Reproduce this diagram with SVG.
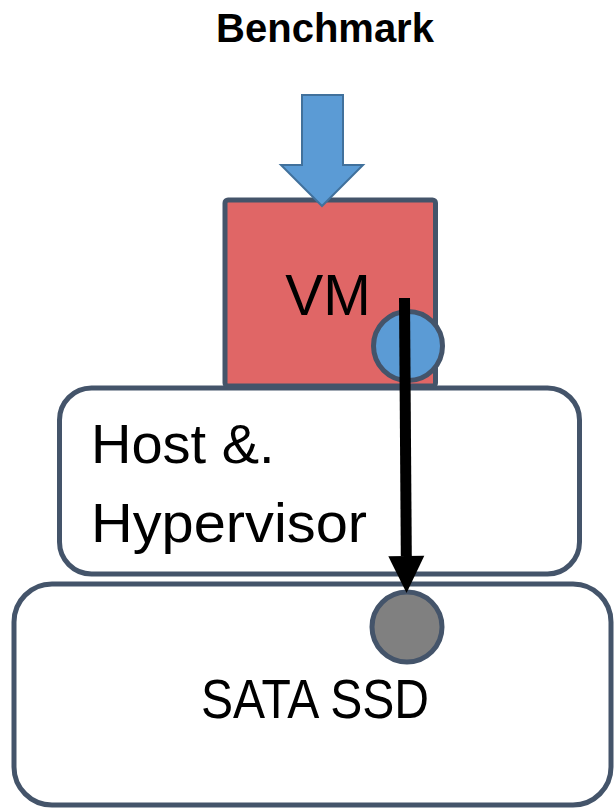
<svg xmlns="http://www.w3.org/2000/svg" width="615" height="810" viewBox="0 0 615 810">
  <style>
    .box { fill: #ffffff; stroke: #44546A; stroke-width: 5; }
    .lbl { font-family: "Liberation Sans", Arial, sans-serif; fill: #000000; }
    .port { stroke: #44546A; stroke-width: 5; }
    .io { stroke: #000000; stroke-width: 11; fill: none; }
  </style>
  <defs>
    <marker id="head" markerUnits="userSpaceOnUse" markerWidth="40" markerHeight="40" refX="0" refY="18" orient="auto" overflow="visible">
      <polygon points="0,0 37,18 0,36" fill="#000000"/>
    </marker>
  </defs>

  <rect width="615" height="810" fill="#ffffff"/>

  <g id="ssd">
    <rect class="box" x="14" y="584" width="597" height="221" rx="38"/>
    <text class="lbl" x="315" y="718" font-size="55" text-anchor="middle" textLength="228" lengthAdjust="spacingAndGlyphs">SATA SSD</text>
    <circle class="port" cx="407" cy="627" r="35" fill="#808080"/>
  </g>

  <g id="host">
    <rect class="box" x="59.5" y="388" width="520" height="186" rx="32"/>
    <text class="lbl" x="91" y="463" font-size="56">Host &amp;.</text>
    <text class="lbl" x="91" y="542" font-size="56" textLength="276" lengthAdjust="spacingAndGlyphs">Hypervisor</text>
  </g>

  <g id="vm">
    <rect x="225" y="200" width="210.5" height="186" rx="3" fill="#E06666" stroke="#44546A" stroke-width="5"/>
    <text class="lbl" x="328" y="315" font-size="57" text-anchor="middle">VM</text>
    <circle class="port" cx="408" cy="346" r="34.5" fill="#5B9BD5" stroke-width="4"/>
  </g>

  <g id="benchmark">
    <text class="lbl" x="325" y="42" font-size="40" font-weight="bold" text-anchor="middle">Benchmark</text>
  </g>

  <g id="connectors">
    <!-- workload input arrow into the VM -->
    <polygon points="302,95 343,95 343,165 363,165 322,206 281,165 302,165" fill="#5B9BD5" stroke="#41719C" stroke-width="2" stroke-linejoin="miter"/>
    <!-- I/O path from VM port down to the SSD -->
    <line class="io" x1="404.5" y1="298" x2="406.3" y2="556" marker-end="url(#head)"/>
  </g>
</svg>
